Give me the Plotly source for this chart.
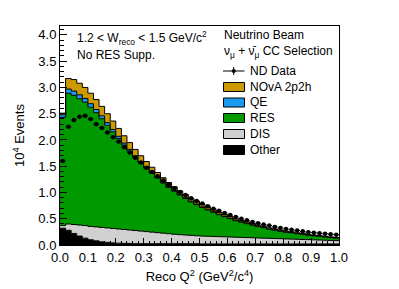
import numpy as np
import plotly.graph_objects as go

# ---- data (units of 10^4 events), 50 bins of Reco Q^2 from 0 to 1 ----
q2_centers = [round(0.01 + 0.02 * i, 2) for i in range(50)]

other = [0.32, 0.28, 0.22, 0.17, 0.13, 0.10, 0.08, 0.06, 0.05, 0.04,
         0.035, 0.03, 0.03, 0.025, 0.025, 0.025, 0.025, 0.025, 0.025, 0.025,
         0.025, 0.025, 0.025, 0.025, 0.025, 0.02, 0.02, 0.02, 0.02, 0.02,
         0.02, 0.02, 0.02, 0.02, 0.02, 0.02, 0.02, 0.02, 0.02, 0.02,
         0.02, 0.02, 0.02, 0.02, 0.02, 0.02, 0.02, 0.02, 0.02, 0.02]

dis = [0.05, 0.12, 0.17, 0.21, 0.24, 0.255, 0.265, 0.275, 0.275, 0.275,
       0.27, 0.265, 0.255, 0.25, 0.24, 0.23, 0.22, 0.21, 0.20, 0.19,
       0.18, 0.172, 0.165, 0.158, 0.151, 0.15, 0.146, 0.143, 0.139, 0.136,
       0.132, 0.128, 0.125, 0.121, 0.118, 0.114, 0.110, 0.107, 0.103, 0.100,
       0.096, 0.092, 0.089, 0.085, 0.082, 0.078, 0.074, 0.071, 0.067, 0.064]

res = [2.06, 2.49, 2.46, 2.405, 2.35, 2.27, 2.175, 2.07, 1.955, 1.84,
       1.725, 1.608, 1.501, 1.394, 1.297, 1.209, 1.121, 1.038, 0.955, 0.882,
       0.818, 0.752, 0.695, 0.638, 0.591, 0.543, 0.503, 0.46, 0.418, 0.384,
       0.35, 0.315, 0.291, 0.266, 0.241, 0.216, 0.20, 0.174, 0.159, 0.143,
       0.127, 0.122, 0.106, 0.10, 0.084, 0.078, 0.07, 0.063, 0.055, 0.048]

qe = [0.05, 0.08, 0.08, 0.075, 0.07, 0.065, 0.06, 0.055, 0.05, 0.045,
      0.04, 0.037, 0.034, 0.031, 0.028, 0.026, 0.024, 0.022, 0.020, 0.018,
      0.017, 0.016, 0.015, 0.014, 0.013, 0.012, 0.011, 0.011, 0.010, 0.010,
      0.009, 0.009, 0.008, 0.008, 0.008, 0.007, 0.007, 0.007, 0.006, 0.006,
      0.006, 0.005, 0.005, 0.005, 0.005, 0.004, 0.004, 0.004, 0.004, 0.004]

mec_2p2h = [0.03, 0.20, 0.22, 0.22, 0.21, 0.20, 0.19, 0.18, 0.17, 0.16,
            0.15, 0.14, 0.13, 0.12, 0.11, 0.10, 0.09, 0.085, 0.08, 0.075,
            0.07, 0.065, 0.06, 0.055, 0.05, 0.045, 0.04, 0.037, 0.034, 0.031,
            0.029, 0.027, 0.025, 0.023, 0.021, 0.020, 0.019, 0.018, 0.017, 0.016,
            0.015, 0.014, 0.013, 0.012, 0.011, 0.010, 0.010, 0.009, 0.009, 0.008]

nd_data = [1.60, 2.25, 2.38, 2.44, 2.46, 2.40, 2.30, 2.23, 2.14, 2.05,
           1.97, 1.86, 1.76, 1.66, 1.57, 1.47, 1.39, 1.31, 1.23, 1.15,
           1.08, 1.01, 0.95, 0.89, 0.84, 0.79, 0.74, 0.69, 0.65, 0.61,
           0.57, 0.535, 0.50, 0.47, 0.44, 0.415, 0.39, 0.37, 0.345, 0.325,
           0.305, 0.29, 0.275, 0.26, 0.245, 0.235, 0.225, 0.215, 0.205, 0.195]
nd_err = [0.015] * 50

layers = [
    ("Other", other, "#000000"),
    ("DIS", dis, "#d0d0d0"),
    ("RES", res, "#009900"),
    ("QE", qe, "#1a9bf0"),
    ("NOvA 2p2h", mec_2p2h, "#cc9900"),
]

half_w = 0.01
edges = [round(c - half_w, 2) for c in q2_centers] + [round(q2_centers[-1] + half_w, 2)]

fig = go.Figure()
cum = np.zeros(len(q2_centers))
for i, (name, vals, col) in enumerate(layers):
    cum = cum + np.array(vals)
    ys = list(cum) + [cum[-1]]
    fig.add_trace(go.Scatter(
        x=edges, y=ys, mode="lines", line=dict(shape="hv", color="black", width=1),
        fill="tozeroy" if i == 0 else "tonexty", fillcolor=col, name=name,
        showlegend=False, hoverinfo="skip"))

fig.add_trace(go.Scatter(
    x=q2_centers, y=nd_data, mode="markers", name="ND Data",
    marker=dict(color="black", size=4.5),
    error_x=dict(type="constant", value=half_w, width=0, thickness=1, color="black"),
    error_y=dict(type="data", array=nd_err, width=0, thickness=1, color="black"),
    showlegend=False))

# ---- layout geometry (pixels) ----
W, H = 399, 289
L, R, T, B = 60, 339, 26, 245
def px(x):
    return (x - L) / (R - L)
def py(y):
    return (B - y) / (B - T)

FONT = "Liberation Sans, Arial, sans-serif"
shapes = []
annots = []

def text(x, y, s, size=12):
    annots.append(dict(x=px(x), y=py(y), xref="paper", yref="paper", text=s,
                       showarrow=False, xanchor="left", yanchor="middle",
                       font=dict(family=FONT, size=size, color="black")))

text(75, 38, "1.2 &lt; W<sub>reco</sub> &lt; 1.5 GeV/c<sup>2</sup>")
text(75, 55, "No RES Supp.")
text(222, 35, "Neutrino Beam")
text(222, 52, "\u03bd<sub>\u03bc</sub> + \u03bd\u0304<sub>\u03bc</sub> CC Selection")

legend_rows = [("ND Data", 71), ("NOvA 2p2h", 87), ("QE", 102.5),
               ("RES", 118), ("DIS", 134), ("Other", 150)]
colors = {n: c for n, _, c in layers}
for name, yc in legend_rows:
    text(248, yc, name)
    if name == "ND Data":
        shapes.append(dict(type="line", xref="paper", yref="paper",
                           x0=px(223), x1=px(244.5), y0=py(yc), y1=py(yc),
                           line=dict(color="black", width=1)))
        shapes.append(dict(type="line", xref="paper", yref="paper",
                           x0=px(233.7), x1=px(233.7), y0=py(yc - 4), y1=py(yc + 4),
                           line=dict(color="black", width=1)))
        shapes.append(dict(type="circle", xref="paper", yref="paper",
                           x0=px(232), x1=px(235.5), y0=py(yc - 1.8), y1=py(yc + 1.8),
                           fillcolor="black", line=dict(color="black", width=0.5)))
    else:
        shapes.append(dict(type="rect", xref="paper", yref="paper",
                           x0=px(223.5), x1=px(244.5), y0=py(yc - 4.5), y1=py(yc + 4.5),
                           fillcolor=colors[name], line=dict(color="black", width=1)))

fig.update_layout(
    width=W, height=H,
    margin=dict(l=L, r=W - R, t=T, b=H - B, pad=0, autoexpand=False),
    paper_bgcolor="white", plot_bgcolor="white",
    font=dict(family=FONT, size=13, color="black"),
    shapes=shapes, annotations=annots, showlegend=False,
    xaxis=dict(range=[0, 1.0], showgrid=False, zeroline=False, automargin=False,
               showline=True, linecolor="black", linewidth=1, mirror=True,
               ticks="inside", ticklen=7, tickwidth=1, tickcolor="black",
               dtick=0.1, tick0=0, tickformat=".1f",
               minor=dict(ticks="inside", ticklen=4, dtick=0.02, tickcolor="black"),
               title=dict(text="Reco Q<sup>2</sup> (GeV<sup>2</sup>/c<sup>4</sup>)",
                          font=dict(size=13), standoff=8),
               tickfont=dict(size=13)),
    yaxis=dict(range=[0, 4.17], showgrid=False, zeroline=False, automargin=False,
               showline=True, linecolor="black", linewidth=1, mirror=True,
               ticks="inside", ticklen=7, tickwidth=1, tickcolor="black",
               dtick=0.5, tick0=0, tickformat=".1f",
               minor=dict(ticks="inside", ticklen=4, dtick=0.1, tickcolor="black"),
               title=dict(text="10<sup>4</sup> Events", font=dict(size=13), standoff=10),
               tickfont=dict(size=13)),
)

fig.write_html("out.html", config={"displayModeBar": False},
               post_script="document.body.style.margin='0';document.body.style.padding='0';")
